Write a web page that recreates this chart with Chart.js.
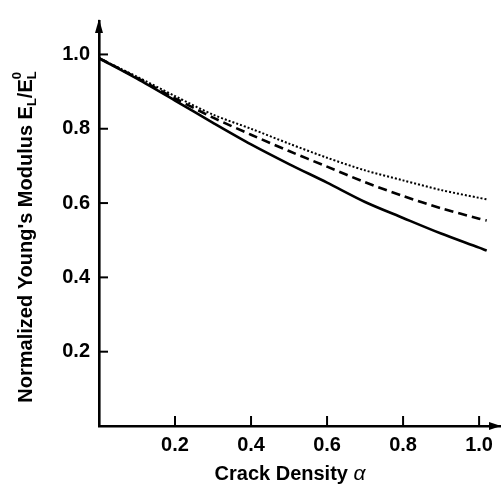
<!DOCTYPE html>
<html>
<head>
<meta charset="utf-8">
<script src="https://cdn.jsdelivr.net/npm/chart.js@4.4.1/dist/chart.umd.min.js"></script>
<style>
  html, body { margin: 0; padding: 0; background: #fff; }
  #wrap { width: 502px; height: 490px; }
</style>
</head>
<body>
<div id="wrap"><canvas id="myChart" width="502" height="490"></canvas></div>
<script>
// crack density values (x)
const alpha = [0, 0.1, 0.2, 0.3, 0.4, 0.5, 0.6, 0.7, 0.8, 0.9, 1.0, 1.02];
// normalized modulus, three curves
const solidVals  = [0.99, 0.935, 0.876, 0.816, 0.758, 0.705, 0.655, 0.603, 0.56, 0.518, 0.48, 0.472];
const dashedVals = [0.99, 0.937, 0.882, 0.83, 0.784, 0.74, 0.698, 0.656, 0.619, 0.586, 0.558, 0.553];
const dottedVals = [0.99, 0.94, 0.888, 0.838, 0.80, 0.76, 0.722, 0.688, 0.661, 0.635, 0.614, 0.61];

const xTicks = [0.2, 0.4, 0.6, 0.8, 1.0];
const yTicks = [0.2, 0.4, 0.6, 0.8, 1.0];

const xTitle = "Crack Density ";
const yTitle = "Normalized Young's Modulus E";

const ctx = document.querySelector("#myChart");
const fontFam = "'Liberation Sans', Arial, sans-serif";

const toPts = (vals) => vals.map((v, i) => ({ x: alpha[i], y: v }));

// inward ticks, arrows and axis titles
const axisDeco = {
  id: 'axisDeco',
  afterDraw(chart) {
    const c = chart.ctx;
    const xs = chart.scales.x, ys = chart.scales.y;
    const area = chart.chartArea;
    c.save();
    c.strokeStyle = '#000';
    c.fillStyle = '#000';
    c.lineWidth = 2;
    xTicks.forEach(v => {
      const px = xs.getPixelForValue(v);
      c.beginPath(); c.moveTo(px, area.bottom); c.lineTo(px, area.bottom - 10); c.stroke();
    });
    yTicks.forEach(v => {
      const py = ys.getPixelForValue(v);
      c.beginPath(); c.moveTo(area.left, py); c.lineTo(area.left + 9, py); c.stroke();
    });
    // arrow heads
    c.beginPath();
    c.moveTo(area.left, area.top - 2);
    c.lineTo(area.left - 4, area.top + 12);
    c.lineTo(area.left + 4, area.top + 12);
    c.closePath(); c.fill();
    c.beginPath();
    c.moveTo(area.right + 1, area.bottom);
    c.lineTo(area.right - 11, area.bottom - 4);
    c.lineTo(area.right - 11, area.bottom + 4);
    c.closePath(); c.fill();

    // x title
    const big = 'bold 20px ' + fontFam, small = 'bold 13px ' + fontFam;
    c.font = big;
    c.textBaseline = 'alphabetic';
    const w1 = c.measureText(xTitle).width;
    c.font = 'italic 21px ' + fontFam;
    const w2 = c.measureText('α').width;
    let sx = 290 - (w1 + w2) / 2;
    c.font = big;
    c.fillText(xTitle, sx, 480);
    c.font = 'italic 21px ' + fontFam;
    c.fillText('α', sx + w1, 480);

    // y title with sub/superscripts
    c.translate(32, 237);
    c.rotate(-Math.PI / 2);
    const parts = [
      { t: yTitle, f: big, dy: 0 },
      { t: 'L', f: small, dy: 4 },
      { t: '/E', f: big, dy: 0 },
    ];
    let total = 0;
    parts.forEach(p => { c.font = p.f; p.w = c.measureText(p.t).width; total += p.w; });
    c.font = small;
    const lw = c.measureText('L').width;
    total += lw;
    let px = -total / 2;
    parts.forEach(p => { c.font = p.f; c.fillText(p.t, px, p.dy); px += p.w; });
    c.font = small;
    c.fillText('L', px, 4);
    c.fillText('0', px, -11);
    c.restore();
  }
};

const config = {
  type: 'line',
  data: {
    datasets: [
      { label: 'solid', data: toPts(solidVals), borderColor: '#000', borderWidth: 2.6, pointRadius: 0, tension: 0.3, fill: false },
      { label: 'dashed', data: toPts(dashedVals), borderColor: '#000', borderWidth: 2.6, borderDash: [9, 5], pointRadius: 0, tension: 0.3, fill: false },
      { label: 'dotted', data: toPts(dottedVals), borderColor: '#000', borderWidth: 2, borderDash: [2, 2], pointRadius: 0, tension: 0.3, fill: false },
    ]
  },
  options: {
    responsive: false,
    animation: false,
    layout: { padding: { top: 12, right: 2, left: 0, bottom: 0 } },
    plugins: { legend: { display: false }, tooltip: { enabled: false } },
    scales: {
      x: {
        type: 'linear', min: 0, max: 1.055,
        afterBuildTicks: (s) => { s.ticks = xTicks.map(v => ({ value: v })); },
        afterFit: (s) => { s.height = 64; },
        grid: { display: true, drawOnChartArea: false, drawTicks: false },
        border: { color: '#000', width: 2.6 },
        ticks: { padding: 7, color: '#000', font: { family: fontFam, size: 20, weight: 'bold' }, callback: (v) => v.toFixed(1), maxRotation: 0 }
      },
      y: {
        type: 'linear', min: 0, max: 1.09,
        afterBuildTicks: (s) => { s.ticks = yTicks.map(v => ({ value: v })); },
        afterFit: (s) => { s.width = 99; },
        grid: { display: true, drawOnChartArea: false, drawTicks: false },
        border: { color: '#000', width: 2.6 },
        ticks: { padding: 9, color: '#000', font: { family: fontFam, size: 20, weight: 'bold' }, callback: (v) => v.toFixed(1) }
      }
    }
  },
  plugins: [axisDeco]
};

new Chart(ctx, config);
</script>
</body>
</html>
